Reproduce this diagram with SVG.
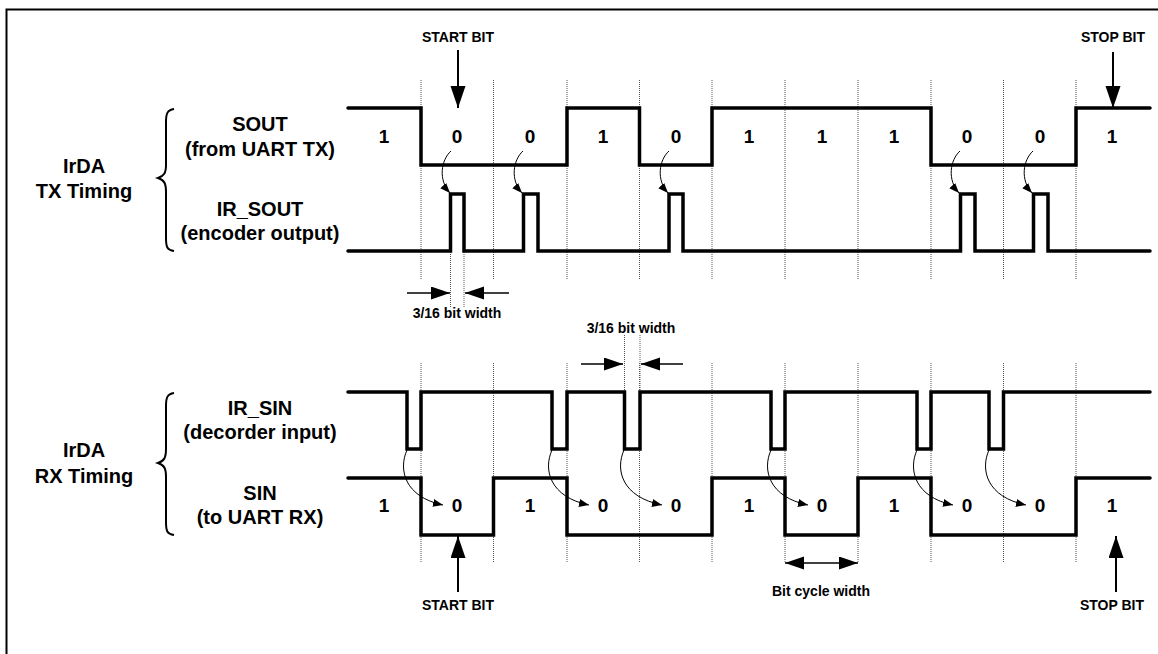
<svg xmlns="http://www.w3.org/2000/svg" width="1158" height="654" viewBox="0 0 1158 654">
<style>
text{font-family:"Liberation Sans",Arial,sans-serif;font-weight:bold;fill:#000;text-anchor:middle}
.l{font-size:20px}.b{font-size:19px}.s{font-size:14px}
.w{fill:none;stroke:#000;stroke-width:3.500;stroke-linejoin:miter;stroke-linecap:round}
.g{fill:none;stroke:#555;stroke-width:1;stroke-dasharray:1 1}
.a{fill:none;stroke:#000;stroke-width:2}
.h{fill:none;stroke:#000;stroke-width:1.500}
.c{fill:none;stroke:#000;stroke-width:1}
.br{fill:none;stroke:#000;stroke-width:2}
</style>
<defs>
<marker id="big" markerUnits="userSpaceOnUse" markerWidth="23" markerHeight="16" refX="22" refY="7.500" orient="auto"><path d="M0 0L22 7.500L0 15Z"/></marker>
<marker id="ah" markerUnits="userSpaceOnUse" markerWidth="20" markerHeight="14" refX="19" refY="6.500" orient="auto"><path d="M0 0L19 6.500L0 13Z"/></marker>
<marker id="sm" markerUnits="userSpaceOnUse" markerWidth="12" markerHeight="10" refX="10" refY="4" orient="auto"><path d="M0 0L10 4L0 8Z"/></marker>
</defs>
<rect x="6.500" y="9.500" width="1160" height="660" fill="none" stroke="#000" stroke-width="2"/>
<g id="grid">
<path class="g" d="M421 80V279M493.500 80V279M567 80V279M639.500 80V279M712 80V279M785 80V279M858 80V279M931 80V279M1003.500 80V279M1076 80V279"/>
<path class="g" d="M450.500 250V308M464 250V308"/>
<path class="g" d="M421 363V563M493.500 363V563M567 363V563M639.500 363V563M712 363V563M785 363V563M858 363V563M931 363V563M1003.500 363V563M1076 363V563"/>
<path class="g" d="M624.500 335V392M640 335V392"/>
</g>
<g id="connectors">
<path class="a" d="M458 50V108" marker-end="url(#big)"/>
<path class="a" d="M1113 52V108" marker-end="url(#big)"/>
<path class="a" d="M458 592V536" marker-end="url(#big)"/>
<path class="a" d="M1116 592V536" marker-end="url(#big)"/>
<path class="h" d="M407 293H450" marker-end="url(#ah)"/>
<path class="h" d="M509 293H465" marker-end="url(#ah)"/>
<path class="h" d="M581 364H623" marker-end="url(#ah)"/>
<path class="h" d="M683 364H641" marker-end="url(#ah)"/>
<path class="h" d="M822 563H785" marker-end="url(#ah)"/>
<path class="h" d="M822 563H858" marker-end="url(#ah)"/>
<path class="c" d="M451 151C441 160 438 180 450 193" marker-end="url(#sm)"/>
<path class="c" d="M523 151C513 160 510 180 522 193" marker-end="url(#sm)"/>
<path class="c" d="M669 151C659 160 656 180 668 193" marker-end="url(#sm)"/>
<path class="c" d="M960 151C950 160 947 180 959 193" marker-end="url(#sm)"/>
<path class="c" d="M1033 151C1023 160 1020 180 1032 193" marker-end="url(#sm)"/>
<path class="c" d="M407 450C398 470 405 497 443 505" marker-end="url(#sm)"/>
<path class="c" d="M552 450C543 470 550 497 589 505" marker-end="url(#sm)"/>
<path class="c" d="M624 450C615 470 622 497 662 505" marker-end="url(#sm)"/>
<path class="c" d="M771 450C762 470 769 497 808 505" marker-end="url(#sm)"/>
<path class="c" d="M917 450C908 470 915 497 953 505" marker-end="url(#sm)"/>
<path class="c" d="M989 450C980 470 987 497 1026 505" marker-end="url(#sm)"/>
</g>
<g id="sout"><path class="w" d="M348 108H421V165H567V108H639.500V165H712V108H931V165H1076V108H1150"/></g>
<g id="ir_sout"><path class="w" d="M348 251H450.500V194H464V251H523.500V194H538V251H669V194H683V251H960.500V194H975V251H1033.500V194H1048V251H1150"/></g>
<g id="ir_sin"><path class="w" d="M348 392H407V449H421V392H552V449H567V392H624.500V449H640V392H771V449H785V392H917V449H931V392H989V449H1003.500V392H1150"/></g>
<g id="sin"><path class="w" d="M348 478H421V535H493.500V478H567V535H712V478H785V535H858V478H931V535H1076V478H1150"/></g>
<g id="brace-tx"><path class="br" d="M174 109C167 110 166 114 166 122V165C166 173 164 176 158 178C164 180 166 183 166 192V238C166 247 167 250 174 251"/></g>
<g id="brace-rx"><path class="br" d="M174 393C167 394 166 398 166 406V449C166 458 164 461 158 463C164 465 166 468 166 477V522C166 531 167 534 174 535"/></g>
<g id="labels">
<text class="s" x="458" y="42">START BIT</text>
<text class="s" x="1113" y="42">STOP BIT</text>
<text class="s" x="458" y="610">START BIT</text>
<text class="s" x="1112" y="610">STOP BIT</text>
<text class="s" x="457" y="318">3/16 bit width</text>
<text class="s" x="631" y="333">3/16 bit width</text>
<text class="s" x="821" y="596">Bit cycle width</text>
<text class="l" x="84" y="173">IrDA</text><text class="l" x="84" y="198">TX Timing</text>
<text class="l" x="84" y="457">IrDA</text><text class="l" x="84" y="483">RX Timing</text>
<text class="l" x="260" y="131">SOUT</text><text class="l" x="260" y="156">(from UART TX)</text>
<text class="l" x="260" y="216">IR_SOUT</text><text class="l" x="260" y="240">(encoder output)</text>
<text class="l" x="260" y="415">IR_SIN</text><text class="l" x="260" y="439">(decorder input)</text>
<text class="l" x="260" y="500">SIN</text><text class="l" x="260" y="524">(to UART RX)</text>
<text class="b" x="384" y="143">1</text><text class="b" x="457" y="143">0</text><text class="b" x="530" y="143">0</text><text class="b" x="603" y="143">1</text><text class="b" x="676" y="143">0</text><text class="b" x="749" y="143">1</text><text class="b" x="822" y="143">1</text><text class="b" x="894" y="143">1</text><text class="b" x="967" y="143">0</text><text class="b" x="1040" y="143">0</text><text class="b" x="1112" y="143">1</text>
<text class="b" x="384" y="512">1</text><text class="b" x="457" y="512">0</text><text class="b" x="530" y="512">1</text><text class="b" x="603" y="512">0</text><text class="b" x="676" y="512">0</text><text class="b" x="749" y="512">1</text><text class="b" x="822" y="512">0</text><text class="b" x="894" y="512">1</text><text class="b" x="967" y="512">0</text><text class="b" x="1040" y="512">0</text><text class="b" x="1112" y="512">1</text>
</g>
</svg>
